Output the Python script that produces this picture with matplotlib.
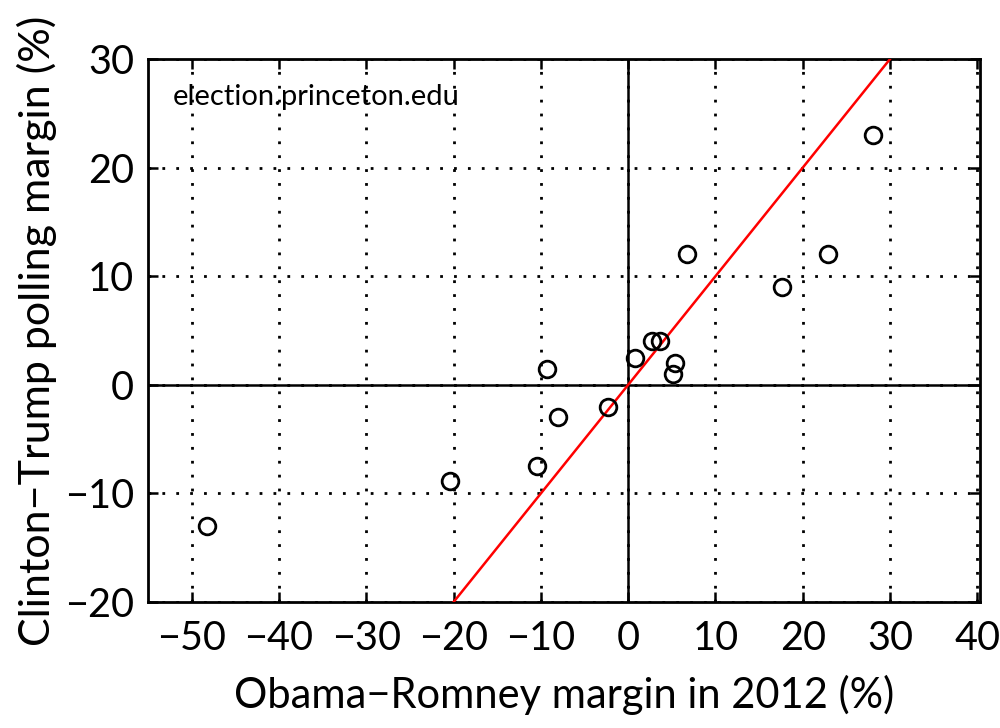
import matplotlib
matplotlib.use("Agg")
import matplotlib.pyplot as plt

# 2012 Obama-Romney margin vs 2016 Clinton-Trump polling margin (%)
obama_romney = [-48.2, -20.4, -10.4, -9.25, -8.0, -2.3, 0.8, 2.7, 3.7,
                5.1, 5.4, 6.7, 17.6, 22.9, 28.1]
clinton_trump = [-13.0, -8.9, -7.5, 1.5, -3.0, -2.0, 2.5, 4.0, 4.0,
                 1.0, 2.0, 12.0, 9.0, 12.0, 23.0]

x_ticks = [-50, -40, -30, -20, -10, 0, 10, 20, 30, 40]
y_ticks = [-20, -10, 0, 10, 20, 30]
diag = [-20, 30]

plt.rcParams["font.family"] = ["Lato", "DejaVu Sans"]

fig = plt.figure(figsize=(10, 7.28), dpi=100)
ax = fig.add_axes([0.148, 0.173, 0.832, 0.746])

ax.set_xlim(-55, 40.3)
ax.set_ylim(-20, 30)

ax.grid(True, color="black", linestyle=(0, (1, 4)), linewidth=2.0)
ax.set_axisbelow(True)

ax.axhline(0, color="black", linewidth=1.8, zorder=2)
ax.axvline(0, color="black", linewidth=1.8, zorder=2)

ax.plot(diag, diag, color="red", linewidth=1.8, zorder=3)

ax.plot(obama_romney, clinton_trump, "o", markersize=12,
        markerfacecolor="none", markeredgecolor="black",
        markeredgewidth=2.0, zorder=4)

ax.set_xticks(x_ticks)
ax.set_yticks(y_ticks)
ax.set_xticklabels([str(t).replace("-", "\u2212") for t in x_ticks])
ax.set_yticklabels([str(t).replace("-", "\u2212") for t in y_ticks])
ax.tick_params(direction="in", length=7, width=1.8, labelsize=28.5,
               top=True, right=True)
ax.tick_params(axis="x", pad=13)
ax.tick_params(axis="y", pad=10)

for spine in ax.spines.values():
    spine.set_linewidth(2.0)

ax.set_xlabel("Obama\u2212Romney margin in 2012 (%)", fontsize=30, labelpad=13)
ax.set_ylabel("Clinton\u2212Trump polling margin (%)", fontsize=31, labelpad=6)

ax.text(-52.2, 26.5, "election.princeton.edu", fontsize=21,
        ha="left", va="center")

fig.savefig("out.png", dpi=100)
